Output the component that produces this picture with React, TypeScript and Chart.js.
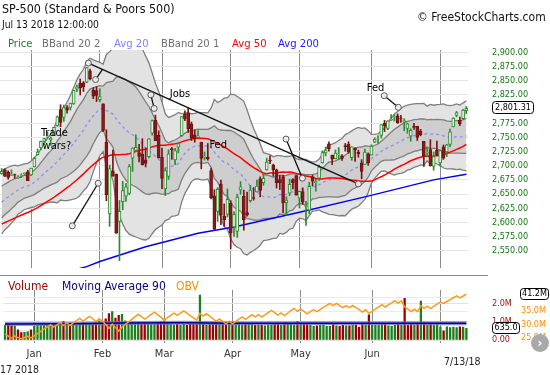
import React, { useEffect, useRef } from 'react';
import { Chart, registerables } from 'chart.js';
Chart.register(...registerables);

const FF = "'DejaVu Sans Condensed', 'DejaVu Sans', sans-serif";

const dates = [
  '12/18/17','12/19/17','12/20/17','12/21/17','12/22/17','12/26/17','12/27/17','12/28/17','12/29/17',
  '1/2/18','1/3/18','1/4/18','1/5/18','1/8/18','1/9/18','1/10/18','1/11/18','1/12/18','1/16/18','1/17/18','1/18/18','1/19/18','1/22/18','1/23/18','1/24/18','1/25/18','1/26/18','1/29/18','1/30/18','1/31/18',
  '2/1/18','2/2/18','2/5/18','2/6/18','2/7/18','2/8/18','2/9/18','2/12/18','2/13/18','2/14/18','2/15/18','2/16/18','2/20/18','2/21/18','2/22/18','2/23/18','2/26/18','2/27/18','2/28/18',
  '3/1/18','3/2/18','3/5/18','3/6/18','3/7/18','3/8/18','3/9/18','3/12/18','3/13/18','3/14/18','3/15/18','3/16/18','3/19/18','3/20/18','3/21/18','3/22/18','3/23/18','3/26/18','3/27/18','3/28/18','3/29/18',
  '4/2/18','4/3/18','4/4/18','4/5/18','4/6/18','4/9/18','4/10/18','4/11/18','4/12/18','4/13/18','4/16/18','4/17/18','4/18/18','4/19/18','4/20/18','4/23/18','4/24/18','4/25/18','4/26/18','4/27/18','4/30/18',
  '5/1/18','5/2/18','5/3/18','5/4/18','5/7/18','5/8/18','5/9/18','5/10/18','5/11/18','5/14/18','5/15/18','5/16/18','5/17/18','5/18/18','5/21/18','5/22/18','5/23/18','5/24/18','5/25/18','5/29/18','5/30/18','5/31/18',
  '6/1/18','6/4/18','6/5/18','6/6/18','6/7/18','6/8/18','6/11/18','6/12/18','6/13/18','6/14/18','6/15/18','6/18/18','6/19/18','6/20/18','6/21/18','6/22/18','6/25/18','6/26/18','6/27/18','6/28/18','6/29/18',
  '7/2/18','7/3/18','7/5/18','7/6/18','7/9/18','7/10/18','7/11/18','7/12/18','7/13/18'
];

const opens = [
  2685.9, 2692.71, 2688.18, 2683.02, 2684.22, 2679.09, 2682.10, 2686.10, 2689.15,
  2683.73, 2697.85, 2719.31, 2731.33, 2742.67, 2751.15, 2745.55, 2752.97, 2770.18, 2798.96, 2784.99, 2802.40, 2802.60, 2809.16, 2835.05, 2845.42, 2846.24, 2847.48, 2867.23, 2832.74, 2832.41,
  2816.45, 2808.92, 2741.06, 2614.78, 2690.95, 2685.01, 2601.78, 2636.75, 2646.27, 2651.21, 2713.46, 2727.14, 2722.99, 2720.53, 2710.42, 2715.80, 2757.37, 2780.45, 2753.78,
  2715.22, 2658.89, 2681.06, 2730.18, 2710.18, 2732.75, 2752.91, 2790.54, 2792.31, 2774.06, 2754.27, 2750.57, 2741.38, 2715.05, 2714.99, 2691.36, 2646.71, 2619.35, 2667.57, 2611.30, 2614.41,
  2633.45, 2592.17, 2584.04, 2657.36, 2645.82, 2617.18, 2638.41, 2643.89, 2653.83, 2676.90, 2670.10, 2692.74, 2710.11, 2701.16, 2692.56, 2675.40, 2680.80, 2634.92, 2651.65, 2675.47, 2682.51,
  2642.96, 2654.24, 2628.08, 2621.45, 2680.34, 2670.26, 2678.12, 2705.02, 2722.70, 2738.47, 2718.59, 2712.62, 2719.71, 2717.35, 2735.39, 2738.34, 2713.98, 2730.94, 2723.60, 2705.11, 2702.43, 2720.98,
  2718.70, 2741.67, 2748.46, 2753.25, 2774.84, 2765.84, 2780.18, 2785.60, 2787.94, 2783.21, 2777.78, 2765.79, 2752.01, 2769.73, 2769.28, 2760.79, 2742.94, 2722.12, 2728.45, 2698.69, 2727.13,
  2704.95, 2733.27, 2724.19, 2737.68, 2768.51, 2788.56, 2779.82, 2783.14, 2796.93
];
const highs = [
  2694.97, 2694.44, 2691.01, 2692.64, 2685.35, 2682.74, 2685.64, 2687.66, 2692.12,
  2695.89, 2714.37, 2729.29, 2743.45, 2748.51, 2759.14, 2750.80, 2767.56, 2787.85, 2807.54, 2807.04, 2805.83, 2810.33, 2833.03, 2842.24, 2852.97, 2848.56, 2872.87, 2870.62, 2837.75, 2839.26,
  2835.96, 2808.92, 2763.39, 2701.04, 2727.67, 2685.27, 2638.67, 2672.61, 2668.84, 2702.10, 2731.51, 2754.42, 2737.60, 2747.75, 2731.26, 2747.76, 2780.64, 2789.15, 2761.52,
  2730.89, 2696.25, 2728.09, 2732.08, 2730.60, 2740.45, 2786.57, 2796.98, 2801.90, 2777.11, 2763.03, 2761.85, 2741.38, 2724.22, 2739.14, 2695.68, 2657.67, 2661.36, 2674.78, 2632.65, 2659.07,
  2638.30, 2619.14, 2649.86, 2672.08, 2656.88, 2653.55, 2665.45, 2661.43, 2674.72, 2680.26, 2686.49, 2713.34, 2717.49, 2702.84, 2693.94, 2682.86, 2683.55, 2645.30, 2676.48, 2677.35, 2682.87,
  2655.27, 2660.87, 2637.14, 2670.93, 2683.35, 2676.34, 2701.27, 2726.11, 2732.86, 2742.10, 2718.59, 2727.76, 2731.96, 2719.50, 2739.19, 2742.24, 2733.33, 2731.97, 2727.36, 2710.67, 2729.34, 2722.50,
  2736.93, 2749.16, 2752.61, 2772.39, 2779.90, 2779.39, 2790.21, 2789.80, 2791.47, 2789.06, 2782.81, 2774.99, 2765.05, 2774.86, 2769.28, 2764.17, 2742.94, 2732.91, 2746.09, 2724.34, 2743.26,
  2727.26, 2736.58, 2737.83, 2764.41, 2784.65, 2795.58, 2785.91, 2799.22, 2804.53
];
const lows = [
  2685.0, 2680.74, 2676.11, 2682.40, 2678.13, 2677.96, 2678.91, 2682.69, 2673.61,
  2682.36, 2697.77, 2719.07, 2727.92, 2737.60, 2747.86, 2736.06, 2752.78, 2769.64, 2768.64, 2778.38, 2792.56, 2798.08, 2808.12, 2830.59, 2824.81, 2830.94, 2846.18, 2851.48, 2818.27, 2813.04,
  2812.70, 2759.97, 2638.17, 2593.07, 2681.33, 2580.56, 2532.69, 2622.45, 2637.08, 2648.87, 2689.82, 2725.11, 2706.76, 2701.29, 2697.77, 2713.74, 2753.78, 2744.22, 2713.54,
  2659.65, 2647.32, 2675.75, 2711.26, 2701.74, 2722.65, 2751.54, 2779.26, 2758.68, 2744.38, 2741.47, 2749.97, 2694.59, 2710.05, 2709.79, 2641.59, 2585.89, 2601.81, 2596.12, 2593.06, 2609.72,
  2553.80, 2575.49, 2573.61, 2649.58, 2586.27, 2610.79, 2635.78, 2639.25, 2653.83, 2645.05, 2665.16, 2692.05, 2703.63, 2681.90, 2660.61, 2657.99, 2617.32, 2612.67, 2647.16, 2659.01, 2648.04,
  2625.41, 2631.70, 2594.62, 2615.32, 2664.70, 2655.20, 2674.14, 2704.54, 2717.45, 2725.47, 2701.91, 2712.17, 2711.36, 2709.18, 2725.70, 2721.88, 2709.54, 2707.38, 2714.99, 2676.81, 2702.43, 2700.68,
  2718.70, 2740.54, 2739.51, 2748.46, 2760.16, 2763.59, 2779.90, 2778.78, 2774.65, 2776.52, 2761.73, 2757.12, 2743.19, 2763.91, 2744.39, 2752.68, 2698.67, 2715.60, 2699.38, 2691.99, 2718.03,
  2698.95, 2711.16, 2716.02, 2733.52, 2768.51, 2786.24, 2770.77, 2781.53, 2791.69
];
const closes = [
  2690.16, 2681.47, 2679.25, 2684.57, 2683.34, 2680.50, 2682.62, 2687.54, 2673.61,
  2695.81, 2713.06, 2723.99, 2743.15, 2747.71, 2751.29, 2748.23, 2767.56, 2786.24, 2776.42, 2802.56, 2798.03, 2810.30, 2832.97, 2839.13, 2837.54, 2839.25, 2872.87, 2853.53, 2822.43, 2823.81,
  2821.98, 2762.13, 2648.94, 2695.14, 2681.66, 2581.00, 2619.55, 2656.00, 2662.94, 2698.63, 2731.20, 2732.22, 2716.26, 2701.33, 2703.96, 2747.30, 2779.60, 2744.28, 2713.83,
  2677.67, 2691.25, 2720.94, 2728.12, 2726.80, 2738.97, 2786.57, 2783.02, 2765.31, 2749.48, 2747.33, 2752.01, 2712.92, 2716.94, 2711.93, 2643.69, 2588.26, 2658.55, 2612.62, 2605.00, 2640.87,
  2581.88, 2614.45, 2644.69, 2662.84, 2604.47, 2613.16, 2656.87, 2642.19, 2663.99, 2656.30, 2677.84, 2706.39, 2708.64, 2693.13, 2670.14, 2670.29, 2634.56, 2639.40, 2666.94, 2669.91, 2648.05,
  2654.80, 2635.67, 2629.73, 2663.42, 2672.63, 2671.92, 2697.79, 2723.07, 2727.72, 2730.13, 2711.45, 2722.46, 2720.13, 2712.97, 2733.01, 2724.44, 2733.29, 2727.76, 2721.33, 2689.86, 2724.01, 2705.27,
  2734.62, 2746.87, 2748.80, 2772.35, 2770.37, 2779.03, 2782.00, 2786.85, 2775.63, 2782.49, 2779.66, 2773.75, 2762.59, 2767.32, 2749.76, 2754.88, 2717.07, 2723.06, 2699.63, 2716.31, 2718.37,
  2726.71, 2713.22, 2736.61, 2759.82, 2784.17, 2793.84, 2774.02, 2798.29, 2801.31
];
// volume in the chart's own units (M)
const volumes = [
  0.80, 0.80, 0.78, 0.76, 0.55, 0.40, 0.42, 0.45, 0.55,
  0.75, 0.80, 0.82, 0.80, 0.82, 0.85, 0.85, 0.80, 0.80, 1.00, 0.90, 0.92, 0.95, 0.80, 0.85, 0.95, 0.88, 0.85, 0.90, 1.00, 1.05,
  1.00, 1.15, 1.45, 1.55, 1.20, 1.35, 1.40, 1.05, 0.90, 0.95, 0.95, 0.95, 0.88, 0.92, 0.90, 0.85, 0.85, 0.92, 1.00,
  1.05, 0.95, 0.85, 0.82, 0.85, 0.80, 0.85, 0.82, 0.88, 0.85, 0.85, 2.45, 0.92, 0.82, 0.85, 0.95, 1.00, 0.92, 0.90, 0.95, 0.95,
  0.98, 0.85, 0.92, 0.82, 0.90, 0.85, 0.85, 0.80, 0.82, 0.80, 0.78, 0.82, 0.82, 0.85, 0.90, 0.80, 0.95, 0.92, 0.85, 0.80, 1.00,
  0.85, 0.88, 0.92, 0.80, 0.75, 0.78, 0.80, 0.82, 0.75, 0.75, 0.85, 0.78, 0.75, 0.80, 0.78, 0.78, 0.80, 0.80, 0.70, 0.90, 0.82, 1.37,
  0.82, 0.80, 0.80, 0.88, 0.90, 0.78, 0.75, 0.80, 0.85, 0.82, 2.28, 0.80, 0.88, 0.82, 0.85, 2.13, 0.95, 0.82, 0.88, 0.82, 0.85,
  0.72, 0.50, 0.72, 0.68, 0.70, 0.68, 0.72, 0.70, 0.635
];
// closes before the visible window (Oct 2 - Dec 15 2017), for the averages
const priorCloses = [
  2529.12, 2534.58, 2537.74, 2552.07, 2549.33, 2544.73, 2550.64, 2555.24, 2550.93, 2553.17, 2557.64, 2559.36, 2561.26, 2562.10, 2575.21, 2564.98, 2569.13, 2557.15, 2560.40, 2581.07, 2572.83, 2575.26,
  2579.36, 2579.85, 2587.84, 2591.13, 2590.64, 2594.38, 2584.62, 2582.30, 2584.84, 2578.87, 2564.62, 2585.64, 2578.85, 2582.14, 2599.03, 2597.08, 2602.42, 2601.42, 2627.04, 2626.07, 2647.58,
  2642.22, 2639.44, 2629.57, 2629.27, 2636.98, 2651.50, 2659.99, 2664.11, 2662.85, 2652.01, 2675.81
];
const avg200Dates = ['12/18/17', '1/26/18', '2/1/18', '2/22/18', '3/16/18', '4/3/18', '5/1/18', '5/30/18', '6/28/18', '7/13/18'];
const avg200Values = [2482, 2522, 2531, 2557, 2581, 2592, 2618, 2645, 2675, 2685];
const ma90Dates = ['12/18/17', '1/19/18', '2/9/18', '3/9/18', '4/2/18', '5/1/18', '6/1/18', '7/13/18'];
const ma90Values = [0.87, 0.89, 0.93, 0.94, 0.92, 0.91, 0.91, 0.91];
const obvLast = 41.2;
const monthNames = ['', 'Jan', 'Feb', 'Mar', 'Apr', 'May', 'Jun'];
const priceTicks = [2550, 2900];

// annotations: [fromIndex, fromPrice, toIndex, toPrice]
const annoLines = [
  [26.5, 2881, 109, 2668],
  [28.7, 2852, 30.8, 2870],
  [45.6, 2825, 46.6, 2801],
  [21.6, 2594, 29.5, 2669],
  [86.9, 2747, 91.9, 2678],
  [116.9, 2823.5, 121.2, 2803],
];
const annoEndCircle = [true, false, true, true, true, true];
const annoTexts: [string, number, number][] = [
  ['Trade', 12.0, 2758],
  ['wars?', 12.5, 2735],
  ['Jobs', 51.4, 2826],
  ['Fed', 63.5, 2736],
  ['Fed', 111.6, 2837],
];

// ---------- derived series ----------
const N = closes.length;
const allCloses = [...priorCloses, ...closes];
const P = priorCloses.length;
const sma = (n: number, i: number) => {
  let s = 0;
  for (let k = P + i - n + 1; k <= P + i; k++) s += allCloses[k];
  return s / n;
};
const sdev = (n: number, i: number, m: number) => {
  let s = 0;
  for (let k = P + i - n + 1; k <= P + i; k++) s += (allCloses[k] - m) ** 2;
  return Math.sqrt(s / n);
};
const avg20 = closes.map((_, i) => sma(20, i));
const sd20 = closes.map((_, i) => sdev(20, i, avg20[i]));
const bb2u = avg20.map((m, i) => m + 2 * sd20[i]);
const bb2l = avg20.map((m, i) => m - 2 * sd20[i]);
const bb1u = avg20.map((m, i) => m + sd20[i]);
const bb1l = avg20.map((m, i) => m - sd20[i]);
const avg50 = closes.map((_, i) => sma(50, i));
const upDay = closes.map((c, i) => c >= (i ? closes[i - 1] : priorCloses[P - 1]));
const bull = closes.map((c, i) => c >= opens[i]);
const obv: number[] = new Array(N);
obv[N - 1] = obvLast;
for (let i = N - 1; i > 0; i--) {
  const d = closes[i] - closes[i - 1];
  obv[i - 1] = obv[i] - (d > 0 ? volumes[i] : d < 0 ? -volumes[i] : 0);
}
const monthOf = (d: string) => parseInt(d.split('/')[0], 10);
const isMonthStart = dates.map((d, i) => i > 0 && monthOf(d) !== monthOf(dates[i - 1]));

const gridMonth = (ctx: any) => (isMonthStart[ctx.index] ? '#8c8c8c' : 'rgba(0,0,0,0)');
const fmtPrice = (v: number) => v.toLocaleString('en-US', { minimumFractionDigits: 2, maximumFractionDigits: 2 });
const isMult = (v: number, s: number) => Math.abs(v / s - Math.round(v / s)) < 1e-6;
const CLEAR = 'rgba(0,0,0,0)';

function roundBox(ctx: CanvasRenderingContext2D, x: number, y: number, w: number, h: number, r: number) {
  ctx.beginPath();
  ctx.moveTo(x + r, y);
  ctx.lineTo(x + w - r, y);
  ctx.arcTo(x + w, y, x + w, y + r, r);
  ctx.lineTo(x + w, y + h - r);
  ctx.arcTo(x + w, y + h, x + w - r, y + h, r);
  ctx.lineTo(x + r, y + h);
  ctx.arcTo(x, y + h, x, y + h - r, r);
  ctx.lineTo(x, y + r);
  ctx.arcTo(x, y, x + r, y, r);
  ctx.closePath();
}

const annoPlugin = {
  id: 'annos',
  afterDatasetsDraw(chart: any) {
    const { ctx } = chart;
    const xs = chart.scales.x;
    const ys = chart.scales.y;
    const px = (i: number) => xs.getPixelForValue(i);
    const py = (v: number) => ys.getPixelForValue(v);
    ctx.save();
    ctx.strokeStyle = '#111';
    ctx.lineWidth = 1.3;
    annoLines.forEach(([a, b, c, d]) => {
      ctx.beginPath();
      ctx.moveTo(px(a), py(b));
      ctx.lineTo(px(c), py(d));
      ctx.stroke();
    });
    const circ = (i: number, v: number) => {
      ctx.beginPath();
      ctx.arc(px(i), py(v), 3, 0, Math.PI * 2);
      ctx.fillStyle = 'rgba(240,240,240,0.9)';
      ctx.fill();
      ctx.strokeStyle = '#555';
      ctx.lineWidth = 1;
      ctx.stroke();
    };
    annoLines.forEach(([a, b, c, d], k) => {
      circ(a, b);
      if (annoEndCircle[k]) circ(c, d);
    });
    ctx.fillStyle = '#000';
    ctx.font = `11px ${FF}`;
    ctx.textBaseline = 'middle';
    ctx.textAlign = 'left';
    annoTexts.forEach(([t, i, v]) => ctx.fillText(t, px(i), py(v)));
    ctx.restore();
  },
  afterDraw(chart: any) {
    const { ctx } = chart;
    const ys = chart.scales.y;
    const last = closes[N - 1];
    const y = ys.getPixelForValue(last);
    ctx.save();
    roundBox(ctx, 492.5, Math.round(y) - 6.5, 41, 12, 3);
    ctx.fillStyle = '#fff';
    ctx.fill();
    ctx.strokeStyle = '#000';
    ctx.lineWidth = 1;
    ctx.stroke();
    ctx.fillStyle = '#000';
    ctx.font = `9px ${FF}`;
    ctx.textAlign = 'center';
    ctx.textBaseline = 'middle';
    ctx.fillText(fmtPrice(last), 513, Math.round(y) - 0.5);
    ctx.restore();
  },
};

const volPlugin = {
  id: 'volbox',
  beforeDatasetsDraw(chart: any) {
    const { ctx, chartArea } = chart;
    const ys = chart.scales.y;
    const top = ys.getPixelForValue(0.55);
    ctx.save();
    ctx.fillStyle = '#ececec';
    ctx.fillRect(chartArea.left, top, chartArea.right - chartArea.left, ys.getPixelForValue(0) - top);
    ctx.restore();
  },
  afterDraw(chart: any) {
    const { ctx } = chart;
    const ys = chart.scales.y;
    const y2 = chart.scales.y2;
    ctx.save();
    ctx.font = `9px ${FF}`;
    ctx.textBaseline = 'middle';
    ctx.textAlign = 'center';
    const yv = Math.round(ys.getPixelForValue(volumes[N - 1]));
    roundBox(ctx, 492.5, yv - 5.5, 27, 11, 3);
    ctx.fillStyle = '#fff';
    ctx.fill();
    ctx.strokeStyle = '#000';
    ctx.lineWidth = 1;
    ctx.stroke();
    ctx.fillStyle = '#000';
    ctx.fillText((volumes[N - 1] * 1000).toFixed(1), 506, yv);
    const yo = Math.round(y2.getPixelForValue(obv[N - 1]));
    roundBox(ctx, 520.5, yo - 5.5, 28, 11, 3);
    ctx.fillStyle = '#fff';
    ctx.fill();
    ctx.stroke();
    ctx.fillStyle = '#000';
    ctx.fillText(obv[N - 1].toFixed(1) + 'M', 534.5, yo);
    ctx.restore();
  },
};

function mainConfig(): any {
  const BAND = '#7e7e7e';
  const line = (data: any, color: string, width: number, order: number, extra: any = {}) => ({
    type: 'line', data, borderColor: color, borderWidth: width, pointRadius: 0, tension: 0, fill: false, order, ...extra,
  });
  return {
    type: 'bar',
    data: {
      labels: dates,
      datasets: [
        line(bb2u, BAND, 1.3, 20, { fill: '+1', backgroundColor: '#e3e3e3' }),
        line(bb2l, BAND, 1.3, 19),
        line(bb1u, BAND, 1.3, 18, { fill: '+1', backgroundColor: '#cecece' }),
        line(bb1l, BAND, 1.3, 17),
        line(avg20, '#8c8cf5', 1.3, 16, { borderDash: [3, 3] }),
        line(avg50, '#ff0000', 1.5, 15),
        line(avg200Dates.map((d, k) => ({ x: d, y: avg200Values[k] })), '#0000ff', 1.5, 14),
        {
          type: 'bar', data: lows.map((l, i) => [l, highs[i]]),
          backgroundColor: bull.map((b) => (b ? '#2f8a2f' : '#7a1414')),
          barThickness: 1, grouped: false, order: 2, borderWidth: 0,
        },
        {
          type: 'bar', data: opens.map((o, i) => [o, closes[i]]),
          backgroundColor: bull.map((b) => (b ? '#e6f2e6' : '#8b1c1c')),
          borderColor: bull.map((b) => (b ? '#2f8a2f' : '#6e1010')),
          borderWidth: 1, borderSkipped: false, barThickness: 3, grouped: false, order: 1,
        },
      ],
    },
    options: {
      responsive: false,
      animation: false,
      layout: { padding: { left: 0, right: 0, top: 50, bottom: 6 } },
      plugins: { legend: { display: false }, tooltip: { enabled: false } },
      scales: {
        x: {
          type: 'category', offset: true,
          grid: { offset: false, color: gridMonth, drawTicks: false, lineWidth: 1 },
          ticks: { display: false, autoSkip: false },
          border: { display: false },
          afterFit: (s: any) => { s.height = 0; },
        },
        y: {
          position: 'right', min: 2519.6, max: 2904.06,
          afterBuildTicks: (s: any) => {
            s.ticks = s.ticks.filter((t: any) => t.value >= priceTicks[0] - 0.01 && t.value <= priceTicks[1] + 0.01 && isMult(t.value, 25));
          },
          ticks: { stepSize: 25, includeBounds: false, autoSkip: false, padding: 0, color: '#117711', font: { family: FF, size: 9 }, callback: (v: number) => fmtPrice(v) },
          grid: { color: '#e4e4e4', drawTicks: true, tickLength: 24, tickColor: CLEAR },
          border: { display: false },
          afterFit: (s: any) => { s.width = 82; },
        },
      },
    },
    plugins: [annoPlugin],
  };
}

function volConfig(): any {
  const ma90 = ma90Dates.map((d, k) => ({ x: d, y: ma90Values[k] }));
  return {
    type: 'bar',
    data: {
      labels: dates,
      datasets: [
        { type: 'bar', data: volumes, backgroundColor: upDay.map((u) => (u ? '#1a801a' : '#990000')), barThickness: 1.6, yAxisID: 'y', order: 4, borderWidth: 0 },
        { type: 'line', data: ma90, borderColor: 'rgba(110,110,215,0.75)', borderWidth: 4, pointRadius: 0, yAxisID: 'y', order: 3, fill: false },
        { type: 'line', data: ma90, borderColor: '#000080', borderWidth: 1.5, pointRadius: 0, yAxisID: 'y', order: 2, fill: false },
        { type: 'line', data: obv, borderColor: '#ff9a1a', borderWidth: 1.5, pointRadius: 0, yAxisID: 'y2', order: 1, fill: false, tension: 0 },
      ],
    },
    options: {
      responsive: false,
      animation: false,
      layout: { padding: { left: 0, right: 0, top: 20, bottom: 0 } },
      plugins: { legend: { display: false }, tooltip: { enabled: false } },
      scales: {
        x: {
          type: 'category', offset: true,
          grid: { offset: false, color: gridMonth, drawTicks: true, tickLength: 3, lineWidth: 1 },
          ticks: {
            autoSkip: false, maxRotation: 0, minRotation: 0, padding: 5, color: '#333',
            font: { family: FF, size: 11 },
            callback: (_v: any, i: number) => (isMonthStart[i] ? monthNames[monthOf(dates[i])] || '' : ''),
          },
          border: { display: false },
          afterFit: (s: any) => { s.height = 35; },
        },
        y: {
          position: 'right', min: 0, max: 2.732,
          afterBuildTicks: (s: any) => { s.ticks = s.ticks.filter((t: any) => isMult(t.value, 1) && t.value <= 2); },
          ticks: { stepSize: 1, includeBounds: false, autoSkip: false, padding: 0, color: '#a01515', font: { family: FF, size: 9 }, callback: (v: number) => (v === 0 ? '0.00' : v.toFixed(1) + 'M') },
          grid: { color: '#e2e2e2', drawTicks: true, tickLength: 24, tickColor: CLEAR },
          border: { display: false },
          afterFit: (s: any) => { s.width = 50; },
        },
        y2: {
          position: 'right', min: 24.26, max: 42.78,
          afterBuildTicks: (s: any) => { s.ticks = s.ticks.filter((t: any) => isMult(t.value, 5) && t.value >= 25 && t.value <= 40); },
          ticks: { stepSize: 5, includeBounds: false, autoSkip: false, padding: 3, color: '#ff8c00', font: { family: FF, size: 9 }, callback: (v: number) => v.toFixed(1) + 'M' },
          grid: { color: '#ebebeb', drawTicks: false },
          border: { display: false },
          afterFit: (s: any) => { s.width = 32; },
        },
      },
    },
    plugins: [volPlugin],
  };
}

const Txt = ({ x, y, size, color = '#111', children }: any) => (
  <div style={{ position: 'absolute', left: x, top: y - Math.round(size * 0.65), fontSize: size, lineHeight: `${Math.round(size * 1.3)}px`, color, whiteSpace: 'nowrap' }}>{children}</div>
);

export default function App() {
  const mainRef = useRef<HTMLCanvasElement>(null);
  const volRef = useRef<HTMLCanvasElement>(null);
  useEffect(() => {
    const c1 = new Chart(mainRef.current as HTMLCanvasElement, mainConfig());
    const c2 = new Chart(volRef.current as HTMLCanvasElement, volConfig());
    return () => { c1.destroy(); c2.destroy(); };
  }, []);
  return (
    <div style={{ position: 'fixed', left: 0, top: 0, width: 550, height: 375, background: '#fff', overflow: 'hidden', fontFamily: FF }}>
      <canvas ref={mainRef} width={550} height={274} style={{ position: 'absolute', left: 0, top: 0 }} />
      <canvas ref={volRef} width={550} height={105} style={{ position: 'absolute', left: 0, top: 270 }} />
      <Txt x={2} y={9} size={12.4}>SP-500 (Standard &amp; Poors 500)</Txt>
      <Txt x={2} y={25} size={10.3}>Jul 13 2018 12:00:00</Txt>
      <Txt x={417} y={17} size={12}>© FreeStockCharts.com</Txt>
      <Txt x={8} y={43} size={11.2} color="#1e7e1e">Price</Txt>
      <Txt x={42} y={43} size={11.2} color="#707070">BBand 20 2</Txt>
      <Txt x={114} y={43} size={11.2} color="#8080ff">Avg 20</Txt>
      <Txt x={161} y={43} size={11.2} color="#707070">BBand 20 1</Txt>
      <Txt x={232} y={43} size={11.2} color="#ff0000">Avg 50</Txt>
      <Txt x={278} y={43} size={11.2} color="#1a1aff">Avg 200</Txt>
      <div style={{ position: 'absolute', left: 0, top: 275, width: 488, height: 0, borderTop: '1px solid #888' }} />
      <Txt x={8} y={286} size={12} color="#990000">Volume</Txt>
      <Txt x={62} y={286} size={12} color="#000080">Moving Average 90</Txt>
      <Txt x={176} y={286} size={12} color="#ff8c00">OBV</Txt>
      <Txt x={444} y={361} size={10.5} color="#222">7/13/18</Txt>
      <Txt x={0} y={369} size={10.5} color="#222">17 2018</Txt>
      <div style={{ position: 'absolute', left: 531, top: 334, width: 18, height: 18, borderRadius: 9, background: '#a8a8a8', color: '#fff', fontSize: 13, lineHeight: '17px', textAlign: 'center', fontWeight: 'bold' }}>›</div>
    </div>
  );
}
